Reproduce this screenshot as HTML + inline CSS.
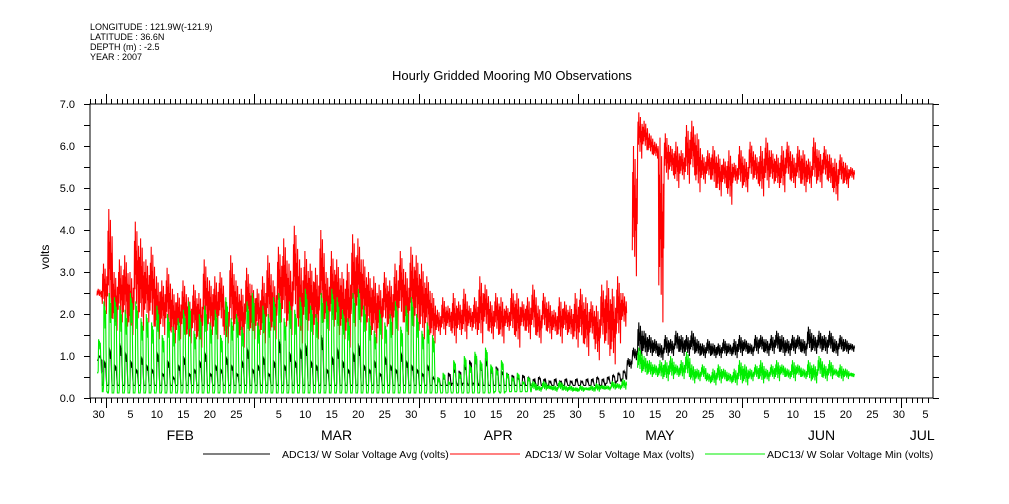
<!DOCTYPE html>
<html><head><meta charset="utf-8"><style>
body{margin:0;background:#fff;width:1009px;height:504px;overflow:hidden}
svg{display:block;font-family:"Liberation Sans",sans-serif}
</style></head><body>
<svg id="chart" width="1009" height="504" viewBox="0 0 1009 504">
<g font-size="9" fill="#000">
<text x="90" y="30">LONGITUDE : 121.9W(-121.9)</text>
<text x="90" y="40">LATITUDE : 36.6N</text>
<text x="90" y="50">DEPTH (m) : -2.5</text>
<text x="90" y="60">YEAR : 2007</text>
</g>
<text x="512" y="80" text-anchor="middle" font-size="13">Hourly Gridded Mooring M0 Observations</text>
<text transform="translate(49,257) rotate(-90)" text-anchor="middle" font-size="12">volts</text>
<g id="axes"></g>
<g id="series"></g>
<g font-size="10.5">
<g><line x1="203" y1="454" x2="270" y2="454" stroke="#000"/><text x="282" y="458">ADC13/ W Solar Voltage Avg (volts)</text></g>
<g><line x1="450" y1="454" x2="520" y2="454" stroke="#f00"/><text x="525" y="458">ADC13/ W Solar Voltage Max (volts)</text></g>
<g><line x1="705" y1="454" x2="765" y2="454" stroke="#0e0"/><text x="767" y="458">ADC13/ W Solar Voltage Min (volts)</text></g>
</g>
</svg>
<script>
// day index 0 = Feb 1 (2007); series start day
const startDay = -1.7;
const yTicks = [0,1,2,3,4,5,6,7];
const monthNames = ["FEB","MAR","APR","MAY","JUN","JUL"];
const monthStarts = [0,28,59,89,120,150];
const dayLabels = [30,5,10,15,20,25,5,10,15,20,25,30,5,10,15,20,25,30,5,10,15,20,25,30,5,10,15,20,25,30,5,10,15,20,25,30,5];
const dayLabelDays = [-2,4,9,14,19,24,32,37,42,47,52,57,63,68,73,78,83,88,93,98,103,108,113,118,124,129,134,139,144,149,154];
const redHi = [2.6,3.2,4.5,3.0,3.3,3.4,3.0,4.2,3.8,3.3, 3.6,2.9,2.8,3.1,2.6,2.5,2.8,2.4,2.7,2.5, 3.3,2.8,2.9,3.0,2.3,3.4,2.8,2.6,3.1,2.7, 2.6,2.9,3.4,2.8,3.6,3.8,3.2,4.1,3.3,3.5, 3.2,3.1,4.0,3.0,3.5,3.3,3.0,3.2,3.9,3.8, 3.3,3.0,2.9,2.7,3.0,2.8,3.2,3.5,3.0,3.6, 3.4,3.2,2.9,2.5,2.1,
 2.4,2.2,2.5,2.3,2.6,2.2,2.4,2.9,2.7,2.3, 2.5,2.4,2.2,2.6,2.5,2.3,2.4,2.7,2.2,2.5, 2.3,2.1,2.4,2.3,2.2,2.5,2.6,2.4,2.3,2.2, 2.7,2.8,2.6,2.9,2.5,
 NaN,6.0,6.8,6.6,6.3,6.1,6.2, 6.3,6.0,6.1,5.9,6.5,6.6,6.3,5.8,5.9,6.0, 5.8,5.7,5.9,5.6,6.0,5.7,6.1,5.8,6.0,6.2, 5.9,5.8,6.0,6.1,5.8,6.0,5.9,5.7,6.2,5.9, 6.0,5.8,5.7,5.8,5.6,5.5];
const redLo = [2.4,2.0,1.9,1.6,1.8,1.7,1.5,1.9,1.6,1.8, 1.7,1.4,1.5,1.6,1.3,1.4,1.5,1.3,1.4,1.2, 1.6,1.5,1.4,1.7,1.3,1.6,1.5,1.2,1.6,1.4, 1.5,1.3,1.6,1.4,1.8,1.7,1.5,1.9,1.3,1.6, 1.5,1.4,1.8,1.6,1.7,1.5,1.4,1.2,1.7,1.8, 1.6,1.5,1.3,1.4,1.7,1.5,1.6,1.8,1.5,1.7, 1.6,1.4,1.5,1.3,1.5,
 1.5,1.6,1.3,1.5,1.4,1.6,1.5,1.3,1.6,1.4, 1.5,1.3,1.6,1.5,1.2,1.6,1.4,1.5,1.3,1.6, 1.4,1.5,1.3,1.5,1.4,1.2,1.3,1.0,1.4,0.9, 1.3,1.0,0.8,1.3,1.7,
 NaN,2.9,5.7,5.9,5.8,5.7,1.8, 5.2,5.3,5.0,5.2,5.1,5.3,4.9,5.1,5.2,5.0, 4.8,5.0,4.6,5.1,5.0,4.9,5.2,5.1,4.8,5.0, 5.1,5.0,4.9,5.2,5.0,5.1,4.9,5.0,5.1,5.0, 5.2,5.0,4.7,5.1,5.0,5.2];
const grnHi = [1.4,2.3,2.5,2.4,2.2,2.1,2.5,2.3,1.9,2.0, 1.8,2.2,1.5,2.0,1.7,1.9,2.1,2.3,1.6,2.0, 2.2,1.8,2.1,1.5,2.4,1.9,2.0,1.7,2.3,2.5, 1.8,2.2,2.0,2.4,2.5,1.9,2.3,2.1,2.4,2.6, 2.2,2.0,2.5,2.3,2.6,2.4,2.1,1.9,2.5,2.6, 2.2,1.9,1.6,2.1,1.8,2.0,2.3,1.7,2.2,2.4, 2.0,1.6,1.8,1.5,0.5,
 0.6,0.4,0.9,0.6,1.0,0.8,1.1,0.9,1.2,0.8, 0.7,0.9,0.6,0.5,0.6,0.4,0.5,0.4,0.3,0.4, 0.3,0.3,0.4,0.3,0.3,0.25,0.3,0.25,0.3,0.35, 0.3,0.3,0.4,0.35,0.45,
 NaN,NaN,1.2,1.0,0.9,0.8,0.9, 0.9,1.0,0.8,0.9,1.1,0.8,0.7,0.8,0.6,0.7, 0.8,0.7,0.6,0.7,0.9,0.8,0.7,0.8,0.9,0.7, 0.8,0.9,0.8,0.7,0.9,0.8,0.7,0.9,0.8,1.0, 0.8,0.9,0.7,0.8,0.7,0.6];
const grnLo = [0.6,0.15,0.12,0.12,0.12,0.12,0.12,0.12,0.12,0.12, 0.12,0.12,0.12,0.12,0.12,0.12,0.12,0.12,0.12,0.12, 0.12,0.12,0.12,0.12,0.12,0.12,0.12,0.12,0.12,0.12, 0.12,0.12,0.12,0.12,0.12,0.12,0.12,0.12,0.12,0.12, 0.12,0.12,0.12,0.12,0.12,0.12,0.12,0.12,0.12,0.12, 0.12,0.12,0.12,0.12,0.12,0.12,0.12,0.12,0.12,0.12, 0.12,0.12,0.12,0.12,0.12,
 0.12,0.12,0.12,0.12,0.12,0.12,0.12,0.12,0.12,0.12, 0.15,0.12,0.15,0.15,0.15,0.15,0.15,0.18,0.15,0.18, 0.2,0.15,0.18,0.15,0.15,0.15,0.15,0.18,0.15,0.15, 0.2,0.18,0.2,0.2,0.2,
 NaN,NaN,0.6,0.55,0.5,0.5,0.45, 0.4,0.45,0.5,0.45,0.5,0.35,0.4,0.45,0.35,0.3, 0.35,0.4,0.35,0.3,0.35,0.3,0.4,0.45,0.35,0.4, 0.45,0.4,0.5,0.45,0.4,0.5,0.45,0.4,0.35,0.5, 0.4,0.45,0.5,0.4,0.45,0.5];
const blkHi = [1.0,0.9,1.2,0.8,1.3,1.1,0.9,0.7,1.0,0.8, 0.7,1.1,0.6,0.9,0.5,0.8,1.0,0.6,0.7,0.9, 1.1,0.6,0.8,0.7,1.0,0.8,0.6,0.9,1.2,0.7, 0.8,1.0,0.6,0.9,1.4,0.8,1.1,0.9,1.2,1.3, 0.9,0.8,1.5,0.7,1.0,1.2,0.9,0.7,1.1,1.3, 0.8,0.7,0.9,0.6,1.0,0.8,0.7,1.1,0.9,0.8, 0.7,0.6,0.8,0.5,0.45,
 0.5,0.6,0.7,0.65,0.8,0.9,1.0,0.8,0.95,0.7, 0.75,0.65,0.6,0.55,0.5,0.55,0.5,0.45,0.5,0.45, 0.4,0.45,0.4,0.45,0.4,0.45,0.4,0.45,0.45,0.5, 0.45,0.5,0.55,0.6,0.65,
 0.95,1.2,1.8,1.6,1.5,1.4,1.3, 1.5,1.4,1.6,1.5,1.5,1.6,1.4,1.3,1.4,1.3, 1.3,1.4,1.3,1.4,1.5,1.4,1.3,1.5,1.5,1.4, 1.5,1.6,1.5,1.4,1.5,1.5,1.4,1.7,1.5,1.6, 1.5,1.6,1.4,1.5,1.4,1.3];
const blkLo = [0.9,0.3,0.3,0.3,0.3,0.3,0.3,0.3,0.3,0.3, 0.3,0.3,0.3,0.3,0.3,0.3,0.3,0.3,0.3,0.3, 0.3,0.3,0.3,0.3,0.3,0.3,0.3,0.3,0.3,0.3, 0.3,0.3,0.3,0.3,0.3,0.3,0.3,0.3,0.3,0.3, 0.3,0.3,0.3,0.3,0.3,0.3,0.3,0.3,0.3,0.3, 0.3,0.3,0.3,0.3,0.3,0.3,0.3,0.3,0.3,0.3, 0.3,0.3,0.3,0.3,0.3,
 0.3,0.3,0.35,0.3,0.35,0.3,0.35,0.3,0.3,0.3, 0.3,0.3,0.3,0.3,0.3,0.3,0.3,0.3,0.3,0.3, 0.3,0.3,0.3,0.3,0.3,0.3,0.3,0.3,0.3,0.3, 0.3,0.35,0.35,0.4,0.45,
 0.7,0.9,1.0,1.0,1.0,1.0,0.9, 1.0,1.0,1.1,1.0,1.0,1.05,1.0,0.95,1.0,0.95, 0.95,1.0,1.0,0.95,1.0,1.05,1.0,1.05,1.1,1.0, 1.05,1.1,1.0,1.0,1.05,1.1,1.0,1.1,1.05,1.1, 1.05,1.1,1.0,1.1,1.05,1.1];

const X0 = 90, X1 = 933, Y0 = 398, Y1 = 104;
const xScale = d => 106 + d * 5.3;
const yScale = v => Y0 - (v / 7) * (Y0 - Y1);
const NS = "http://www.w3.org/2000/svg";
function mk(tag, attrs, parent) {
  const e = document.createElementNS(NS, tag);
  for (const k in attrs) e.setAttribute(k, attrs[k]);
  parent.appendChild(e);
  return e;
}
const axes = document.getElementById('axes');
const frame = mk('rect', {x: X0, y: Y1, width: X1 - X0, height: Y0 - Y1, fill: 'none', stroke: '#000', 'stroke-width': 1}, axes);


for (let v = 0; v <= 7.001; v += 0.5) {
  const y = Math.round(yScale(v)) + 0.5;
  const tl = mk('line', {x1: X0 - 6, x2: X0, y1: y, y2: y, stroke: '#000'}, axes);
  
  
  const tr = mk('line', {x1: X1, x2: X1 + 6, y1: y, y2: y, stroke: '#000'}, axes);
  
  
}
yTicks.forEach(v => {
  const t = mk('text', {x: 75, y: yScale(v) + 4, 'text-anchor': 'end', 'font-size': 11}, axes);
  t.textContent = v.toFixed(1);
  
  
});
for (let d = -3; d <= 156; d++) {
  const x = Math.round(xScale(d)) + 0.5;
  if (x < X0 || x > X1) continue;
  const major = monthStarts.includes(d);
  const b = mk('line', {x1: x, x2: x, y1: Y0, y2: Y0 + (major ? 10 : 5), stroke: '#000'}, axes);
  
  
  const t = mk('line', {x1: x, x2: x, y1: Y1 - (major ? 10 : 5), y2: Y1, stroke: '#000'}, axes);
  
  
}
dayLabelDays.forEach((d, i) => {
  const t = mk('text', {x: xScale(d + 0.6), y: 418, 'text-anchor': 'middle', 'font-size': 11}, axes);
  t.textContent = dayLabels[i];
  
  
});
monthNames.forEach((m, i) => {
  const mid = i < monthStarts.length - 1 ? (monthStarts[i] + monthStarts[i + 1]) / 2 : 154;
  const t = mk('text', {x: xScale(mid), y: 440, 'text-anchor': 'middle', 'font-size': 14}, axes);
  t.textContent = m;
  
  
});
const series = document.getElementById('series');
// within-day shape fractions (0 = daily low, 1 = daily high)
const pulseShape = [0,0,0,0.05,1,0.85,0.95,0.7,0.9,0.5,0.2,0,0];
const noiseShape = [0.2,0.8,0.3,1,0.45,0.7,0.15,0.9,0.35,0.6,0,0.75,0.4];
function drawSeries(hi, lo, color, name, shapeFor) {
  let d = '', pen = false;
  for (let i = 0; i < hi.length; i++) {
    const day = startDay + i;
    if (isNaN(hi[i])) { pen = false; continue; }
    const shape = shapeFor(day);
    shape.forEach((f, k) => {
      const v = lo[i] + f * (hi[i] - lo[i]);
      d += (pen ? 'L' : 'M') + xScale(day + k / shape.length).toFixed(1) + ' ' + yScale(v).toFixed(1);
      pen = true;
    });
  }
  const p = mk('path', {d: d, fill: 'none', stroke: color, 'stroke-width': 1.1}, series);
  
  
}
drawSeries(blkHi, blkLo, '#000', 'avg-voltage-line', day => day < 98 ? pulseShape : noiseShape);
drawSeries(redHi, redLo, '#f00', 'max-voltage-line', day => noiseShape);
drawSeries(grnHi, grnLo, '#0e0', 'min-voltage-line', day => day < 80 ? pulseShape : noiseShape);
</script>
</body></html>
